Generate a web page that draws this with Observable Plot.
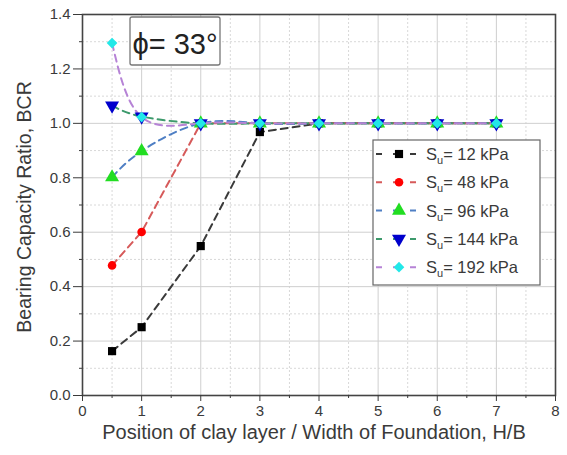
<!DOCTYPE html>
<html><head><meta charset="utf-8">
<script src="https://cdn.jsdelivr.net/npm/d3@7"></script>
<script src="https://cdn.jsdelivr.net/npm/@observablehq/plot@0.6"></script>
<style>
body{margin:0;background:#fff;}
svg{font-family:Arial,"Liberation Sans",sans-serif;}
</style>
</head><body><div id="chart"></div>
<script>
// ---- data ----
const hb = [0.5, 1, 2, 3, 4, 5, 6, 7];
const seriesNames = ["12 kPa", "48 kPa", "96 kPa", "144 kPa", "192 kPa"];
const su12  = [0.163, 0.251, 0.549, 0.968, 1.0, 1.0, 1.0, 1.0];
const su48  = [0.478, 0.601, 1.0, 1.0, 1.0, 1.0, 1.0, 1.0];
const su96  = [0.802, 0.898, 1.0, 1.0, 1.0, 1.0, 1.0, 1.0];
const su144 = [1.065, 1.025, 1.0, 1.0, 1.0, 1.0, 1.0, 1.0];
const su192 = [1.295, 1.023, 1.0, 1.0, 1.0, 1.0, 1.0, 1.0];
const xTicks = [0, 1, 2, 3, 4, 5, 6, 7, 8];
const xMinor = [0.5, 1.5, 2.5, 3.5, 4.5, 5.5, 6.5, 7.5];
const yTicks = [0, 0.2, 0.4, 0.6, 0.8, 1.0, 1.2, 1.4];
const yMinor = [0.1, 0.3, 0.5, 0.7, 0.9, 1.1, 1.3];
const xLabel = "Position of clay layer / Width of Foundation, H/B";
const yLabel = "Bearing Capacity Ratio, BCR";
const phiLabel = "ϕ= 33°";

// ---- styles ----
const lineColors   = ["#3a3a3a", "#d65a5a", "#4f7fc4", "#3d9a6c", "#b683d6"];
const markerColors = ["#000000", "#ff0000", "#22dd22", "#0000cc", "#22e8e8"];
const symbols      = ["square", "circle", "triangle", "triangle", "diamond2"];
const rotations    = [0, 0, 0, 180, 0];
const radii        = [4.6, 4.3, 5.2, 5.2, 4.8];
const curves       = ["linear", "linear", "natural", "natural", "natural"];

const seriesValues = [su12, su48, su96, su144, su192];
const series = seriesValues.map((vals, i) => hb.map((x, j) => ({x, y: vals[j], s: seriesNames[i]})));

const marks = [
  Plot.ruleX(xMinor, {stroke: "#d8d8d8", strokeDasharray: "2,2"}),
  Plot.ruleY(yMinor, {stroke: "#d8d8d8", strokeDasharray: "2,2"}),
  Plot.ruleX(xTicks, {stroke: "#cfcfcf"}),
  Plot.ruleY(yTicks, {stroke: "#cfcfcf"}),
];
series.forEach((rows, i) => {
  marks.push(Plot.line(rows, {x: "x", y: "y", stroke: lineColors[i], strokeWidth: 2, strokeDasharray: "7,5", curve: curves[i]}));
});
series.forEach((rows, i) => {
  marks.push(Plot.dot(rows, {x: "x", y: "y", symbol: symbols[i], fill: markerColors[i], r: radii[i], rotate: rotations[i], stroke: "none"}));
});
marks.push(
  Plot.frame({stroke: "#444", strokeWidth: 1.6}),
  Plot.axisY(yTicks, {tickSize: 9, tickPadding: 3, tickFormat: d3.format(".1f"), fontSize: 15, color: "#3a3a3a", label: null}),
  Plot.axisY(yMinor, {tickSize: 3, tickFormat: () => "", label: null, color: "#3a3a3a"}),
  Plot.axisX(xTicks, {tickSize: 6, tickPadding: 4, fontSize: 15, color: "#3a3a3a", label: null}),
  Plot.axisX(xMinor, {tickSize: 3, tickFormat: () => "", label: null, color: "#3a3a3a"}),
  Plot.text([yLabel], {frameAnchor: "left", dx: -58, dy: 2, rotate: -90, textAnchor: "middle", fontSize: 19.5, fill: "#3a3a3a"}),
  Plot.text([xLabel], {frameAnchor: "bottom", dy: 43, dx: -5, textAnchor: "middle", fontSize: 20, fill: "#3a3a3a"})
);

const plot = Plot.plot({
  width: 567,
  height: 455,
  marginLeft: 82,
  marginRight: 12,
  marginTop: 14,
  marginBottom: 60,
  x: {domain: [0, 8]},
  y: {domain: [0, 1.4]},
  marks
});
document.getElementById("chart").appendChild(plot);

// ---- annotation box & legend ----
const svg = d3.select(plot);
const pb = svg.append("g");
pb.append("rect").attr("x", 130).attr("y", 17).attr("width", 90).attr("height", 48)
  .attr("fill", "white").attr("stroke", "#777").attr("stroke-width", 1.3).attr("rx", 2);
pb.append("text").attr("x", 175).attr("y", 54).attr("text-anchor", "middle")
  .attr("font-size", 29).attr("fill", "#222").text(phiLabel);

const lg = svg.append("g");
lg.append("rect").attr("x", 373).attr("y", 140).attr("width", 167).attr("height", 145)
  .attr("fill", "white").attr("stroke", "#666").attr("stroke-width", 1.2);
const symMap = {square: d3.symbolSquare, circle: d3.symbolCircle, triangle: d3.symbolTriangle, diamond2: d3.symbolDiamond2};
seriesNames.forEach((name, i) => {
  const cy = 154 + i * 28.3;
  lg.append("line").attr("x1", 376).attr("x2", 423).attr("y1", cy).attr("y2", cy)
    .attr("stroke", lineColors[i]).attr("stroke-width", 2).attr("stroke-dasharray", "6,11");
  lg.append("path").attr("d", d3.symbol(symMap[symbols[i]], Math.PI * radii[i] * radii[i])())
    .attr("transform", `translate(399,${cy}) rotate(${rotations[i]})`).attr("fill", markerColors[i]);
  const t = lg.append("text").attr("x", 426).attr("y", cy + 6).attr("font-size", 16.5)
    .attr("text-anchor", "start").attr("fill", "#3a3a3a");
  t.append("tspan").text("S");
  t.append("tspan").attr("font-size", 11).attr("dy", 4).text("u");
  t.append("tspan").attr("dy", -4).text("= " + name);
});
</script>
</body></html>
